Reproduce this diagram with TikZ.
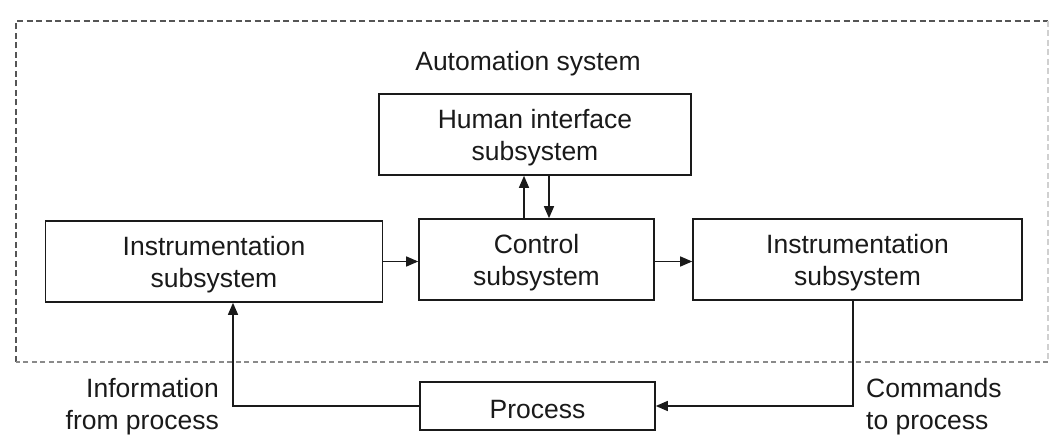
\documentclass[tikz,border=0pt]{standalone}
\usepackage{fontspec}
\setmainfont{Liberation Sans}
\usetikzlibrary{arrows.meta}
\definecolor{ink}{HTML}{1A1A1A}
\definecolor{dashdark}{HTML}{555555}
\definecolor{dashmid}{HTML}{8A8A8A}
\definecolor{dashlight}{HTML}{D0D0D0}
\tikzset{
  lbl/.style={font=\fontsize{26.5}{32}\selectfont, text=ink, inner sep=0pt},
  box/.style={draw=ink, line width=1.6pt, fill=white, inner sep=0pt,
    label={[lbl, align=center, yshift=-3.5pt]center:#1}},
  conn/.style={draw=ink, line width=1.4pt, -{Triangle[length=12pt,width=10pt]}},
  frame/.style={line width=1.8pt, dash pattern=on 6pt off 3.5pt}
}
\begin{document}
\begin{tikzpicture}[x=1pt,y=-1pt]
\useasboundingbox (0,0) rectangle (1060,443);
% dashed frame
\coordinate (f1) at (16,21);
\coordinate (f2) at (1048,21);
\coordinate (f3) at (1048,362);
\coordinate (f4) at (16,362);
\draw[frame, draw=dashdark] (f4) -- (f1) -- (f2);
\draw[frame, draw=dashlight] (f2) -- (f3);
\draw[frame, draw=dashmid, line width=1.5pt, dash pattern=on 5pt off 3.5pt] (f3) -- (f4);
\node[lbl] (auto) at (528,64) {Automation system};
% boxes
\node[box={Human interface\\subsystem}, minimum width=312pt, minimum height=81pt] (hum) at (535,134.5) {};
\node[box={Instrumentation\\subsystem}, minimum width=337pt, minimum height=81pt] (li) at (214,261.5) {};
\node[box={Control\\subsystem}, minimum width=235pt, minimum height=81pt] (ctrl) at (536.5,259.5) {};
\node[box={Instrumentation\\subsystem}, minimum width=329pt, minimum height=81pt] (ri) at (857.5,259.5) {};
\node[box={Process}, minimum width=235pt, minimum height=48pt] (proc) at (537.5,406) {};
% connectors
\draw[conn] (li.east) -- (li.east -| ctrl.west);
\draw[conn] (ctrl.east |- li.east) -- (li.east -| ri.west);
\draw[conn] ([xshift=-12.5pt]ctrl.north) -- ([xshift=-12.5pt]ctrl.north |- hum.south);
\draw[conn] ([xshift=12.5pt]ctrl.north |- hum.south) -- ([xshift=12.5pt]ctrl.north);
\draw[conn] (proc.west) -| ([xshift=19pt]li.south);
\draw[conn] ([xshift=-4.5pt]ri.south) |- (proc.east);
% labels
\node[lbl, align=right, anchor=east] (info) at (219,407) {Information\\from process};
\node[lbl, align=left, anchor=west] (cmd) at (866,407) {Commands\\to process};
\end{tikzpicture}
\end{document}
